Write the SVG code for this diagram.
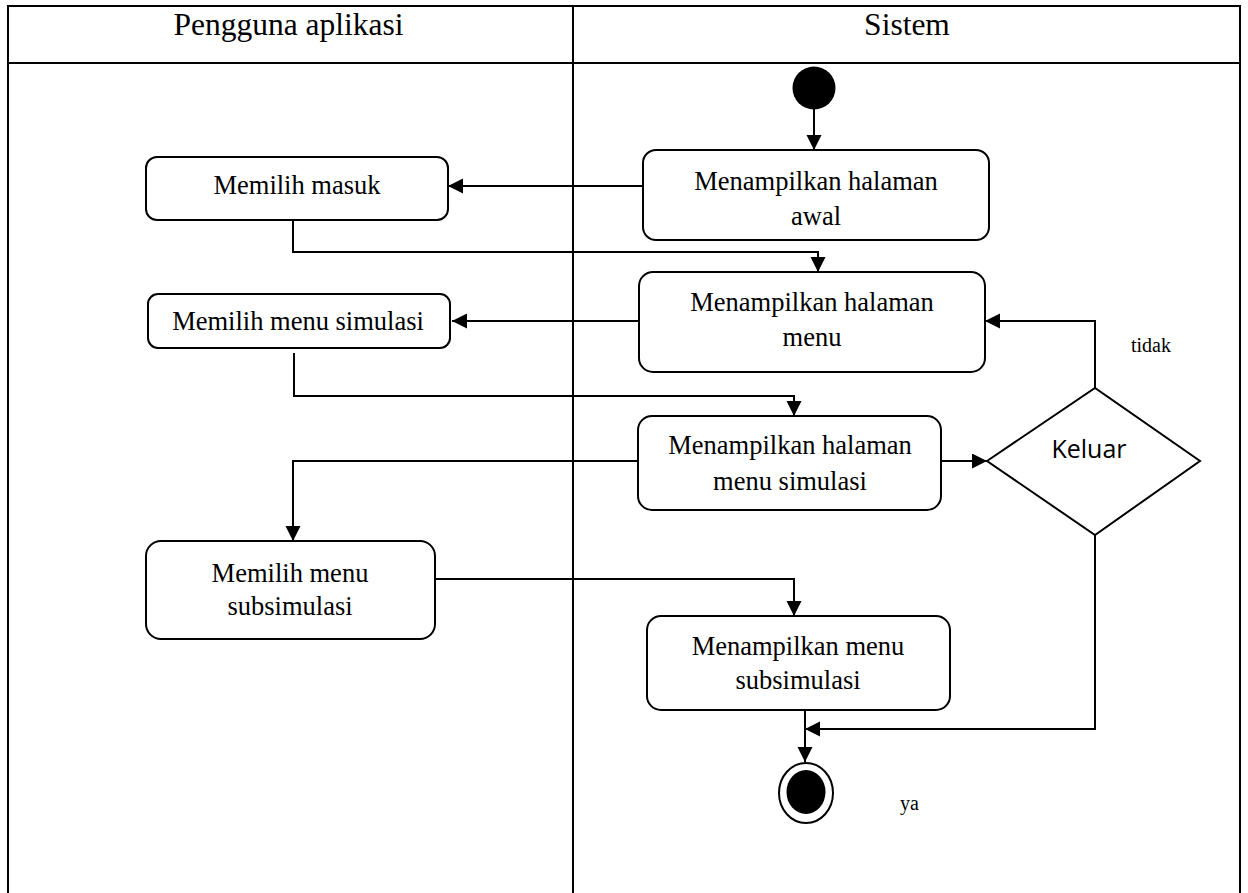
<svg xmlns="http://www.w3.org/2000/svg" width="1248" height="893" viewBox="0 0 1248 893">
<style>
.lane{fill:none;stroke:#000;stroke-width:2}
.hdr{font-family:"Liberation Serif","Times New Roman",serif;font-size:31.5px;fill:#000;text-anchor:middle}
.box{fill:#fff;stroke:#000;stroke-width:2}
.t{font-family:"Liberation Serif","Times New Roman",serif;font-size:26.5px;fill:#000;text-anchor:middle}
.lbl{font-family:"Liberation Serif","Times New Roman",serif;font-size:20px;fill:#000}
.kel{font-family:"Open Sans","Noto Sans",sans-serif;font-size:25px;fill:#000;text-anchor:middle}
.c{fill:none;stroke:#000;stroke-width:2}
</style>
<defs>
<marker id="arr" markerUnits="userSpaceOnUse" markerWidth="18" markerHeight="18" refX="15" refY="7.5" orient="auto">
<path d="M0,0 L15,7.5 L0,15 z" fill="#000"/>
</marker>
</defs>
<rect width="1248" height="893" fill="#fff"/>
<g id="swimlanes">
<line class="lane" x1="8" y1="6" x2="1240" y2="6"/>
<line class="lane" x1="8" y1="63" x2="1240" y2="63" stroke-width="3"/>
<line class="lane" x1="8" y1="5" x2="8" y2="893"/>
<line class="lane" x1="573" y1="5" x2="573" y2="893"/>
<line class="lane" x1="1240" y1="5" x2="1240" y2="893"/>
<text class="hdr" x="288.5" y="35">Pengguna aplikasi</text>
<text class="hdr" x="907" y="35">Sistem</text>
</g>
<g id="connectors">
<line class="c" x1="814" y1="108" x2="814" y2="150" marker-end="url(#arr)"/>
<line class="c" x1="643" y1="186" x2="448" y2="186" marker-end="url(#arr)"/>
<polyline class="c" points="293,220 293,252 818,252 818,272" marker-end="url(#arr)"/>
<line class="c" x1="639" y1="321" x2="452" y2="321" marker-end="url(#arr)"/>
<polyline class="c" points="294,353 294,396 794,396 794,416" marker-end="url(#arr)"/>
<line class="c" x1="941" y1="461" x2="987" y2="461" marker-end="url(#arr)"/>
<polyline class="c" points="638,461 293,461 293,541" marker-end="url(#arr)"/>
<polyline class="c" points="435,579 794,579 794,616" marker-end="url(#arr)"/>
<polyline class="c" points="1095,388 1095,321 985,321" marker-end="url(#arr)"/>
<line class="c" x1="805" y1="710" x2="805" y2="762" marker-end="url(#arr)"/>
<polyline class="c" points="1095,535 1095,729 805,729" marker-end="url(#arr)"/>
<text class="lbl" x="1131" y="352">tidak</text>
<text class="lbl" x="900" y="810">ya</text>
</g>
<g id="start">
<circle cx="814" cy="88" r="21.5" fill="#000"/>
</g>
<g id="tampil-awal">
<rect class="box" x="643" y="150" width="346" height="90" rx="13"/>
<text class="t" x="816" y="190">Menampilkan halaman</text>
<text class="t" x="816" y="225">awal</text>
</g>
<g id="pilih-masuk">
<rect class="box" x="146" y="157" width="302" height="63" rx="11"/>
<text class="t" x="297" y="194">Memilih masuk</text>
</g>
<g id="tampil-menu">
<rect class="box" x="639" y="272" width="346" height="100" rx="14"/>
<text class="t" x="812" y="310.5">Menampilkan halaman</text>
<text class="t" x="812" y="346">menu</text>
</g>
<g id="pilih-simulasi">
<rect class="box" x="148" y="294" width="302" height="54" rx="10"/>
<text class="t" x="298" y="330">Memilih menu simulasi</text>
</g>
<g id="tampil-simulasi">
<rect class="box" x="638" y="416" width="303" height="94" rx="14"/>
<text class="t" x="790" y="454">Menampilkan halaman</text>
<text class="t" x="790" y="490">menu simulasi</text>
</g>
<g id="keluar">
<polygon class="box" points="987,461 1095,388 1200,461 1095,535"/>
<text class="kel" x="1089" y="458">Keluar</text>
</g>
<g id="pilih-subsimulasi">
<rect class="box" x="146" y="541" width="289" height="98" rx="15"/>
<text class="t" x="290" y="582">Memilih menu</text>
<text class="t" x="290" y="615">subsimulasi</text>
</g>
<g id="tampil-subsimulasi">
<rect class="box" x="647" y="616" width="303" height="94" rx="14"/>
<text class="t" x="798" y="655">Menampilkan menu</text>
<text class="t" x="798" y="689">subsimulasi</text>
</g>
<g id="end">
<ellipse cx="806" cy="793" rx="27" ry="30" fill="#fff" stroke="#000" stroke-width="2"/>
<ellipse cx="806" cy="792" rx="19.5" ry="22" fill="#000"/>
</g>
</svg>
